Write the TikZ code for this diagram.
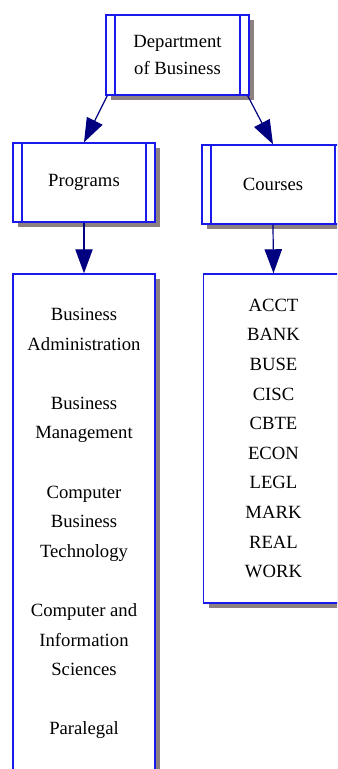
\documentclass[tikz,border=0pt]{standalone}
\usepackage{fontspec}
\setmainfont{Liberation Serif}
\usetikzlibrary{arrows.meta,shadows}
\definecolor{boxblue}{RGB}{25,25,235}
\definecolor{arrownavy}{RGB}{0,0,128}
\definecolor{shadowgray}{RGB}{140,128,128}
\tikzset{
  orgbox/.style={draw=boxblue, line width=1.1pt, fill=white, inner sep=0pt, align=center,
    drop shadow={shadow xshift=3.75pt, shadow yshift=-3.75pt, fill=shadowgray, opacity=1},
    font=\fontsize{14}{22.2}\selectfont},
  sidebars/.style={path picture={
    \draw[boxblue, line width=1.1pt] ([xshift=6.75pt]path picture bounding box.north west) -- ([xshift=6.75pt]path picture bounding box.south west);
    \draw[boxblue, line width=1.1pt] ([xshift=-6.75pt]path picture bounding box.north east) -- ([xshift=-6.75pt]path picture bounding box.south east);}},
  link/.style={arrownavy, line width=0.9pt, -{Triangle[length=18pt,width=13pt]}}
}
\begin{document}
\begin{tikzpicture}[x=0.75pt,y=-0.75pt]
        \useasboundingbox (0,0) rectangle (337,769);
        \clip (0,0) rectangle (337,769);

        \node[orgbox, sidebars, minimum width=107.25pt, minimum height=60pt, font=\fontsize{14}{20.5}\selectfont] (dept) at (177.5,55) {Department\\of Business};
        \node[orgbox, sidebars, minimum width=106.5pt, minimum height=59.25pt] (prog) at (84,182.5) {Programs};
        \node[orgbox, sidebars, minimum width=106.5pt, minimum height=59.25pt] (courses) at (273,184.5) {Courses};

        \node[orgbox, minimum width=106.5pt, minimum height=374.25pt] (proglist) at (84,523.5)
          {Business\\Administration\\[22.2pt]Business\\Management\\[22.2pt]Computer\\Business\\Technology\\[22.2pt]Computer and\\Information\\Sciences\\[22.2pt]Paralegal};
        \node[orgbox, minimum width=105pt, minimum height=246.75pt] (courselist) at (273.5,438.5)
          {ACCT\\BANK\\BUSE\\CISC\\CBTE\\ECON\\LEGL\\MARK\\REAL\\WORK};

        \draw[link] ([xshift=1.5pt]dept.south west) -- (prog.north);
        \draw[link] ([xshift=-1.5pt]dept.south east) -- (courses.north);
        \draw[link] (prog.south) -- (proglist.north);
        \draw[link] (courses.south) -- (courselist.north);
        \end{tikzpicture}
\end{document}
